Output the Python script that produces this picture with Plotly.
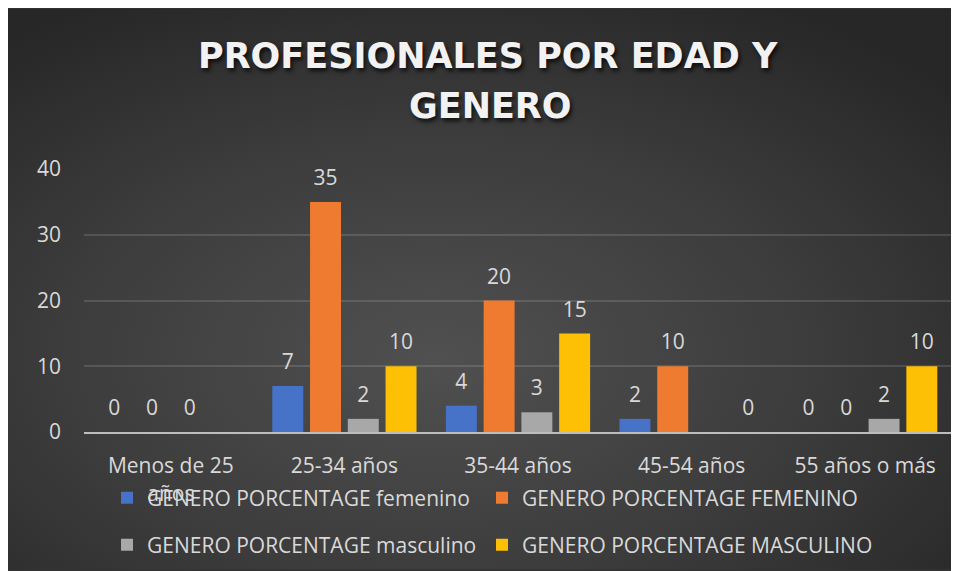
import base64
import plotly.graph_objects as go

# ---- data ----
categories = ["Menos de 25<br>años", "25-34 años", "35-44 años", "45-54 años", "55 años o más"]
series_names = [
    "GENERO PORCENTAGE femenino",
    "GENERO PORCENTAGE FEMENINO",
    "GENERO PORCENTAGE masculino",
    "GENERO PORCENTAGE MASCULINO",
]
fem_lower = [0, 7, 4, 2, 0]
fem_upper = [0, 35, 20, 10, 0]
masc_lower = [0, 2, 3, None, 2]
masc_upper = [None, 10, 15, 0, 10]
y_ticks = [0, 10, 20, 30, 40]
title_line1 = "PROFESIONALES POR EDAD Y"
title_line2 = "GENERO"

series_values = [fem_lower, fem_upper, masc_lower, masc_upper]
colors = ["#4673c8", "#ee7b30", "#a8a8a8", "#fdc004"]

# ---- layout geometry (pixels; page has an 8px body margin) ----
OFF = 8
W, H = 959 - OFF, 571 - OFF
L, R, T, B = 84 - OFF, 7, 169 - OFF, 571 - 433
PW, PH = W - L - R, H - T - B

def px_x(px):  # reference page x -> paper x
    return (px - OFF - L) / PW

def px_y(py):  # reference page y -> paper y
    return (H - B - (py - OFF)) / PH

bargap = 0.13
bargroupgap = 0.18
n = len(series_values)
slot = (1 - bargap) / n
xs = list(range(len(categories)))

font_family = "Open Sans, sans-serif"
txt_color = "#d9d9d9"
legend_ids = ["legend", "legend2", "legend3", "legend4"]
legend_pos = [(107, 498), (482, 498), (107, 545), (482, 545)]

fig = go.Figure()

for j, (name, vals, col) in enumerate(zip(series_names, series_values, colors)):
    fig.add_trace(go.Bar(
        x=xs, y=vals, name=name, marker=dict(color=col, line=dict(width=0)),
        legend=legend_ids[j], hoverinfo="skip",
    ))

for j, vals in enumerate(series_values):
    fig.add_trace(go.Scatter(
        x=[i + (j - (n - 1) / 2) * slot for i in xs],
        y=vals,
        mode="markers+text",
        text=["" if v is None else str(v) for v in vals],
        textposition="top center",
        textfont=dict(family=font_family, size=21, color=txt_color),
        marker=dict(size=17, opacity=0),
        showlegend=False, hoverinfo="skip", cliponaxis=False,
    ))

# background gradient as an SVG image covering the whole paper
svg = f'''<svg xmlns="http://www.w3.org/2000/svg" width="{W}" height="{H}" viewBox="0 0 {W} {H}" preserveAspectRatio="none">
<defs><radialGradient id="g" cx="0.45" cy="0.62" r="0.72">
<stop offset="0" stop-color="#505050"/><stop offset="0.55" stop-color="#3c3c3c"/><stop offset="1" stop-color="#272727"/></radialGradient></defs>
<rect width="{W}" height="{H}" fill="url(#g)"/></svg>'''
src = "data:image/svg+xml;base64," + base64.b64encode(svg.encode()).decode()

legend_layout = {}
for lid, (lx, ly) in zip(legend_ids, legend_pos):
    legend_layout[lid] = dict(
        orientation="h", x=px_x(lx), xanchor="left", y=px_y(ly), yanchor="middle",
        bgcolor="rgba(0,0,0,0)", font=dict(family=font_family, size=21, color=txt_color),
    )

fig.update_layout(
    width=W, height=H, autosize=False,
    margin=dict(l=L, r=R, t=T, b=B, pad=0),
    paper_bgcolor="#333333", plot_bgcolor="rgba(0,0,0,0)",
    barmode="group", bargap=bargap, bargroupgap=bargroupgap,
    images=[dict(source=src, xref="paper", yref="paper",
                 x=-L / PW, y=1 + T / PH, sizex=W / PW, sizey=H / PH,
                 xanchor="left", yanchor="top", sizing="stretch", layer="below")],
    xaxis=dict(
        range=[-0.5, len(categories) - 0.5], tickvals=xs, ticktext=categories,
        showgrid=False, zeroline=False, showline=True, linecolor="#bdbdbd", linewidth=2,
        ticks="", ticklabelstandoff=14,
        tickfont=dict(family=font_family, size=21, color=txt_color),
        fixedrange=True,
    ),
    yaxis=dict(
        range=[0, 40], tickvals=y_ticks, showgrid=True, gridcolor="rgba(255,255,255,0.13)", gridwidth=1.5,
        zeroline=False, showline=False, ticks="", ticklabelstandoff=22,
        tickfont=dict(family=font_family, size=21, color=txt_color),
        fixedrange=True,
    ),
    showlegend=True,
    **legend_layout,
)

title_font = dict(family="DejaVu Sans", size=35, color="#f2f2f2", weight="bold",
                  shadow="2px 3px 4px rgba(0,0,0,0.75)")
fig.add_annotation(text=title_line1, xref="paper", yref="paper", x=px_x(488), y=px_y(56),
                   xanchor="center", yanchor="middle", showarrow=False, font=title_font)
fig.add_annotation(text=title_line2, xref="paper", yref="paper", x=px_x(490), y=px_y(106),
                   xanchor="center", yanchor="middle", showarrow=False, font=title_font)

fig.write_html("out.html")
